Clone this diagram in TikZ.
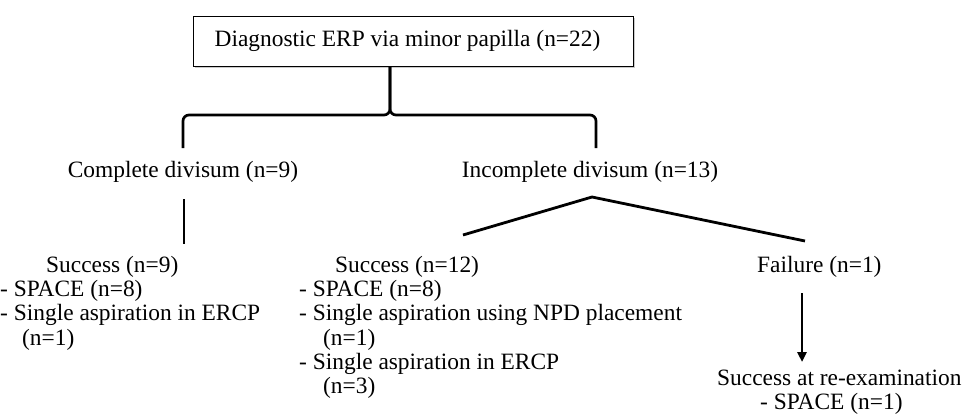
\documentclass[tikz,border=0pt]{standalone}
\usepackage{fontspec}
\setmainfont{Liberation Serif}
\usetikzlibrary{arrows.meta,shadows}
\begin{document}
\begin{tikzpicture}[x=1pt,y=-1pt,
  fnt/.style={font=\fontsize{23.4}{24.3}\selectfont},
  lbl/.style={fnt,inner sep=0pt},
  blk/.style={fnt,inner sep=0pt,align=left,anchor=north west},
  titlebox/.style={fnt,draw,line width=0.8pt,fill=white,minimum width=440pt,minimum height=50pt,inner sep=0pt,
    drop shadow={shadow xshift=1.5pt,shadow yshift=-1.5pt,fill=black!35,opacity=0.6}},
  brace/.style={line width=2.7pt,rounded corners=6pt},
  link/.style={line width=2.8pt},
  arr/.style={line width=2.6pt,-{Triangle[length=10pt,width=9pt]}}]
\useasboundingbox (0,0) rectangle (962,415);
\node[titlebox] (top) at (413,41) {\hspace*{-11pt}Diagnostic ERP via minor papilla (n=22)};
\node[lbl,anchor=base] (cd) at (183,177) {Complete divisum (n=9)};
\node[lbl,anchor=base] (id) at (590,177) {Incomplete divisum (n=13)};
\coordinate (bl) at (183,148);
\coordinate (br) at (596,148);
\coordinate (tip) at (390,115);
\draw[brace] (bl) -- (bl |- tip) -- (tip) -- (tip |- top.south);
\draw[brace] (tip |- top.south) -- (tip) -- (br |- tip) -- (br);
\node[blk] (s9) at (0,255) {\strut\hspace*{46pt}Success (n=9)\\- SPACE (n=8)\\- Single aspiration in ERCP\\\hspace*{22pt}(n=1)};
\node[blk] (s12) at (299,255) {\strut\hspace*{36pt}Success (n=12)\\- SPACE (n=8)\\- Single aspiration using NPD placement\\\hspace*{24pt}(n=1)\\- Single aspiration in ERCP\\\hspace*{24pt}(n=3)};
\node[lbl,anchor=base west] (fail) at (757,272) {Failure (n=1)};
\node[blk] (re) at (717,368) {\strut Success at re-examination\\\hspace*{43pt}- SPACE (n=1)};
\coordinate (c1) at (184,199);
\coordinate (c2) at (184,244);
\draw[link] (c1) -- (c2);
\coordinate (apex) at (592,197);
\coordinate (il) at (463,235);
\coordinate (ir) at (805,241);
\draw[link] (il) -- (apex) -- (ir);
\coordinate (a1) at (802,293);
\coordinate (a2) at (802,362);
\draw[arr] (a1) -- (a2);
\end{tikzpicture}
\end{document}
